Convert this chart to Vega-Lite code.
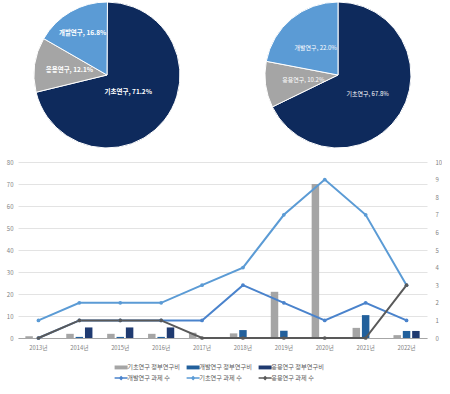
{
  "$schema": "https://vega.github.io/schema/vega-lite/v6.json",
  "padding": {"left": 6, "top": 0, "right": 0, "bottom": 0},
  "background": "white",
  "config": {
    "view": {"stroke": null},
    "font": "Noto Sans CJK KR",
    "axis": {"labelFont": "Noto Sans CJK KR", "labelColor": "#7F7F7F", "labelFontSize": 6}
  },
  "datasets": {
    "pies": [
      {"pie": "연구비", "type": "기초연구", "ord": 1, "pct": 71.2, "label": "기초연구, 71.2%"},
      {"pie": "연구비", "type": "응용연구", "ord": 2, "pct": 12.1, "label": "응용연구, 12.1%"},
      {"pie": "연구비", "type": "개발연구", "ord": 3, "pct": 16.8, "label": "개발연구, 16.8%"},
      {"pie": "과제수", "type": "기초연구", "ord": 1, "pct": 67.8, "label": "기초연구, 67.8%"},
      {"pie": "과제수", "type": "응용연구", "ord": 2, "pct": 10.2, "label": "응용연구, 10.2%"},
      {"pie": "과제수", "type": "개발연구", "ord": 3, "pct": 22.0, "label": "개발연구, 22.0%"}
    ],
    "bars": [
      {"year": "2013년", "series": "기초연구 정부연구비", "value": 0.8},
      {"year": "2013년", "series": "개발연구 정부연구비", "value": 0},
      {"year": "2013년", "series": "응용연구 정부연구비", "value": 0},
      {"year": "2014년", "series": "기초연구 정부연구비", "value": 1.9},
      {"year": "2014년", "series": "개발연구 정부연구비", "value": 0.5},
      {"year": "2014년", "series": "응용연구 정부연구비", "value": 4.8},
      {"year": "2015년", "series": "기초연구 정부연구비", "value": 1.9},
      {"year": "2015년", "series": "개발연구 정부연구비", "value": 0.5},
      {"year": "2015년", "series": "응용연구 정부연구비", "value": 4.8},
      {"year": "2016년", "series": "기초연구 정부연구비", "value": 1.9},
      {"year": "2016년", "series": "개발연구 정부연구비", "value": 0.5},
      {"year": "2016년", "series": "응용연구 정부연구비", "value": 4.8},
      {"year": "2017년", "series": "기초연구 정부연구비", "value": 2.4},
      {"year": "2017년", "series": "개발연구 정부연구비", "value": 0},
      {"year": "2017년", "series": "응용연구 정부연구비", "value": 0},
      {"year": "2018년", "series": "기초연구 정부연구비", "value": 2.1},
      {"year": "2018년", "series": "개발연구 정부연구비", "value": 3.6},
      {"year": "2018년", "series": "응용연구 정부연구비", "value": 0},
      {"year": "2019년", "series": "기초연구 정부연구비", "value": 21},
      {"year": "2019년", "series": "개발연구 정부연구비", "value": 3.3},
      {"year": "2019년", "series": "응용연구 정부연구비", "value": 0},
      {"year": "2020년", "series": "기초연구 정부연구비", "value": 70},
      {"year": "2020년", "series": "개발연구 정부연구비", "value": 0.3},
      {"year": "2020년", "series": "응용연구 정부연구비", "value": 0},
      {"year": "2021년", "series": "기초연구 정부연구비", "value": 4.6},
      {"year": "2021년", "series": "개발연구 정부연구비", "value": 10.4},
      {"year": "2021년", "series": "응용연구 정부연구비", "value": 0},
      {"year": "2022년", "series": "기초연구 정부연구비", "value": 1.3},
      {"year": "2022년", "series": "개발연구 정부연구비", "value": 3.2},
      {"year": "2022년", "series": "응용연구 정부연구비", "value": 3.2}
    ],
    "lines": [
      {"year": "2013년", "series": "개발연구 과제 수", "count": 0},
      {"year": "2014년", "series": "개발연구 과제 수", "count": 1},
      {"year": "2015년", "series": "개발연구 과제 수", "count": 1},
      {"year": "2016년", "series": "개발연구 과제 수", "count": 1},
      {"year": "2017년", "series": "개발연구 과제 수", "count": 1},
      {"year": "2018년", "series": "개발연구 과제 수", "count": 3},
      {"year": "2019년", "series": "개발연구 과제 수", "count": 2},
      {"year": "2020년", "series": "개발연구 과제 수", "count": 1},
      {"year": "2021년", "series": "개발연구 과제 수", "count": 2},
      {"year": "2022년", "series": "개발연구 과제 수", "count": 1},
      {"year": "2013년", "series": "기초연구 과제 수", "count": 1},
      {"year": "2014년", "series": "기초연구 과제 수", "count": 2},
      {"year": "2015년", "series": "기초연구 과제 수", "count": 2},
      {"year": "2016년", "series": "기초연구 과제 수", "count": 2},
      {"year": "2017년", "series": "기초연구 과제 수", "count": 3},
      {"year": "2018년", "series": "기초연구 과제 수", "count": 4},
      {"year": "2019년", "series": "기초연구 과제 수", "count": 7},
      {"year": "2020년", "series": "기초연구 과제 수", "count": 9},
      {"year": "2021년", "series": "기초연구 과제 수", "count": 7},
      {"year": "2022년", "series": "기초연구 과제 수", "count": 3},
      {"year": "2013년", "series": "응용연구 과제 수", "count": 0},
      {"year": "2014년", "series": "응용연구 과제 수", "count": 1},
      {"year": "2015년", "series": "응용연구 과제 수", "count": 1},
      {"year": "2016년", "series": "응용연구 과제 수", "count": 1},
      {"year": "2017년", "series": "응용연구 과제 수", "count": 0},
      {"year": "2018년", "series": "응용연구 과제 수", "count": 0},
      {"year": "2019년", "series": "응용연구 과제 수", "count": 0},
      {"year": "2020년", "series": "응용연구 과제 수", "count": 0},
      {"year": "2021년", "series": "응용연구 과제 수", "count": 0},
      {"year": "2022년", "series": "응용연구 과제 수", "count": 3}
    ]
  },
  "spacing": 9,
  "vconcat": [
    {
      "spacing": 40,
      "resolve": {"scale": {"radius": "independent"}},
      "hconcat": [
        {
          "width": 178, "height": 146,
          "data": {"name": "pies"},
          "transform": [
            {"filter": "datum.pie === '연구비'"},
            {"stack": "pct", "groupby": ["pie"], "sort": [{"field": "ord", "order": "ascending"}], "as": ["p0", "p1"]},
            {"calculate": "(datum.p0 + datum.p1) / 2", "as": "pmid"}
          ],
          "layer": [
            {
              "mark": {"type": "arc", "stroke": "white", "strokeWidth": 1},
              "encoding": {
                "theta": {"field": "p0", "type": "quantitative", "stack": null, "scale": {"domain": [0, 100]}},
                "theta2": {"field": "p1"},
                "fill": {"field": "type", "type": "nominal",
                  "scale": {"domain": ["기초연구", "응용연구", "개발연구"], "range": ["#0E2A5C", "#A5A5A5", "#5B9BD5"]},
                  "legend": null}
              }
            },
            {
              "mark": {"type": "text", "fill": "white", "fontSize": 6.5, "fontWeight": "bold"},
              "encoding": {
                "theta": {"field": "pmid", "type": "quantitative", "stack": null},
                "text": {"field": "label"},
                "radius": {"field": "type", "type": "nominal",
                  "scale": {"domain": ["기초연구", "응용연구", "개발연구"], "range": [27, 49, 41]},
                  "legend": null}
              }
            }
          ]
        },
        {
          "width": 204, "height": 146,
          "data": {"name": "pies"},
          "transform": [
            {"filter": "datum.pie === '과제수'"},
            {"stack": "pct", "groupby": ["pie"], "sort": [{"field": "ord", "order": "ascending"}], "as": ["p0", "p1"]},
            {"calculate": "(datum.p0 + datum.p1) / 2", "as": "pmid"}
          ],
          "layer": [
            {
              "mark": {"type": "arc", "stroke": "white", "strokeWidth": 1},
              "encoding": {
                "theta": {"field": "p0", "type": "quantitative", "stack": null, "scale": {"domain": [0, 100]}},
                "theta2": {"field": "p1"},
                "fill": {"field": "type", "type": "nominal",
                  "scale": {"domain": ["기초연구", "응용연구", "개발연구"], "range": ["#0E2A5C", "#A5A5A5", "#5B9BD5"]},
                  "legend": null}
              }
            },
            {
              "mark": {"type": "text", "fill": "white", "fontSize": 6},
              "encoding": {
                "theta": {"field": "pmid", "type": "quantitative", "stack": null},
                "text": {"field": "label"},
                "radius": {"field": "type", "type": "nominal",
                  "scale": {"domain": ["기초연구", "응용연구", "개발연구"], "range": [35, 35, 42]},
                  "legend": null}
              }
            }
          ]
        }
      ]
    },
    {
      "width": 409, "height": 176,
      "layer": [
        {
          "data": {"name": "bars"},
          "mark": {"type": "bar"},
          "encoding": {
            "x": {"field": "year", "type": "nominal", "sort": null,
              "scale": {"paddingInner": 0.36, "paddingOuter": 0.18},
              "axis": {"title": null, "labelAngle": 0, "ticks": false, "domain": true, "domainColor": "#A6A6A6", "labelPadding": 6, "labelFontSize": 5.8}},
            "xOffset": {"field": "series", "type": "nominal",
              "sort": ["기초연구 정부연구비", "개발연구 정부연구비", "응용연구 정부연구비"],
              "scale": {"paddingInner": 0.2, "paddingOuter": 0}},
            "y": {"field": "value", "type": "quantitative",
              "scale": {"domain": [0, 80]},
              "axis": {"title": null, "orient": "left", "values": [0, 10, 20, 30, 40, 50, 60, 70, 80], "ticks": false, "domain": false, "gridColor": "#E3E3E3", "labelPadding": 5}},
            "color": {"field": "series", "type": "nominal",
              "scale": {
                "domain": ["기초연구 정부연구비", "개발연구 정부연구비", "응용연구 정부연구비", "개발연구 과제 수", "기초연구 과제 수", "응용연구 과제 수"],
                "range": ["#A5A5A5", "#22609C", "#1F3A70", "#4A83CC", "#5B9BD5", "#595959"]
              },
              "legend": {
                "orient": "none", "legendX": 100, "legendY": 362,
                "direction": "horizontal", "columns": 3, "title": null,
                "symbolSize": 169, "labelFontSize": 6.2, "labelOffset": 3,
                "columnPadding": 3, "rowPadding": 2, "labelColor": "#595959",
                "labelFont": "Noto Sans CJK KR",
                "encode": {
                  "symbols": {
                    "update": {
                      "shape": {"signal": "datum.index < 3 ? 'M-1,-0.3H1V0.3H-1Z' : 'M-1,0H1M-0.2,0L0,-0.2L0.2,0L0,0.2Z'"},
                      "fill": {"scale": "color", "field": "value"},
                      "stroke": {"scale": "color", "field": "value"},
                      "strokeWidth": {"signal": "datum.index < 3 ? 0 : 1.5"}
                    }
                  }
                }
              }
            }
          }
        },
        {
          "data": {"name": "lines"},
          "encoding": {
            "x": {"field": "year", "type": "nominal", "sort": null},
            "y": {"field": "count", "type": "quantitative",
              "scale": {"domain": [0, 10]},
              "axis": {"title": null, "orient": "right", "values": [0, 1, 2, 3, 4, 5, 6, 7, 8, 9, 10], "grid": false, "ticks": false, "domain": false, "labelPadding": 8}},
            "color": {"field": "series", "type": "nominal"}
          },
          "layer": [
            {"mark": {"type": "line", "strokeWidth": 2}},
            {"mark": {"type": "point", "shape": "circle", "filled": true, "size": 14, "opacity": 1}}
          ]
        }
      ],
      "resolve": {"scale": {"y": "independent"}}
    }
  ]
}
